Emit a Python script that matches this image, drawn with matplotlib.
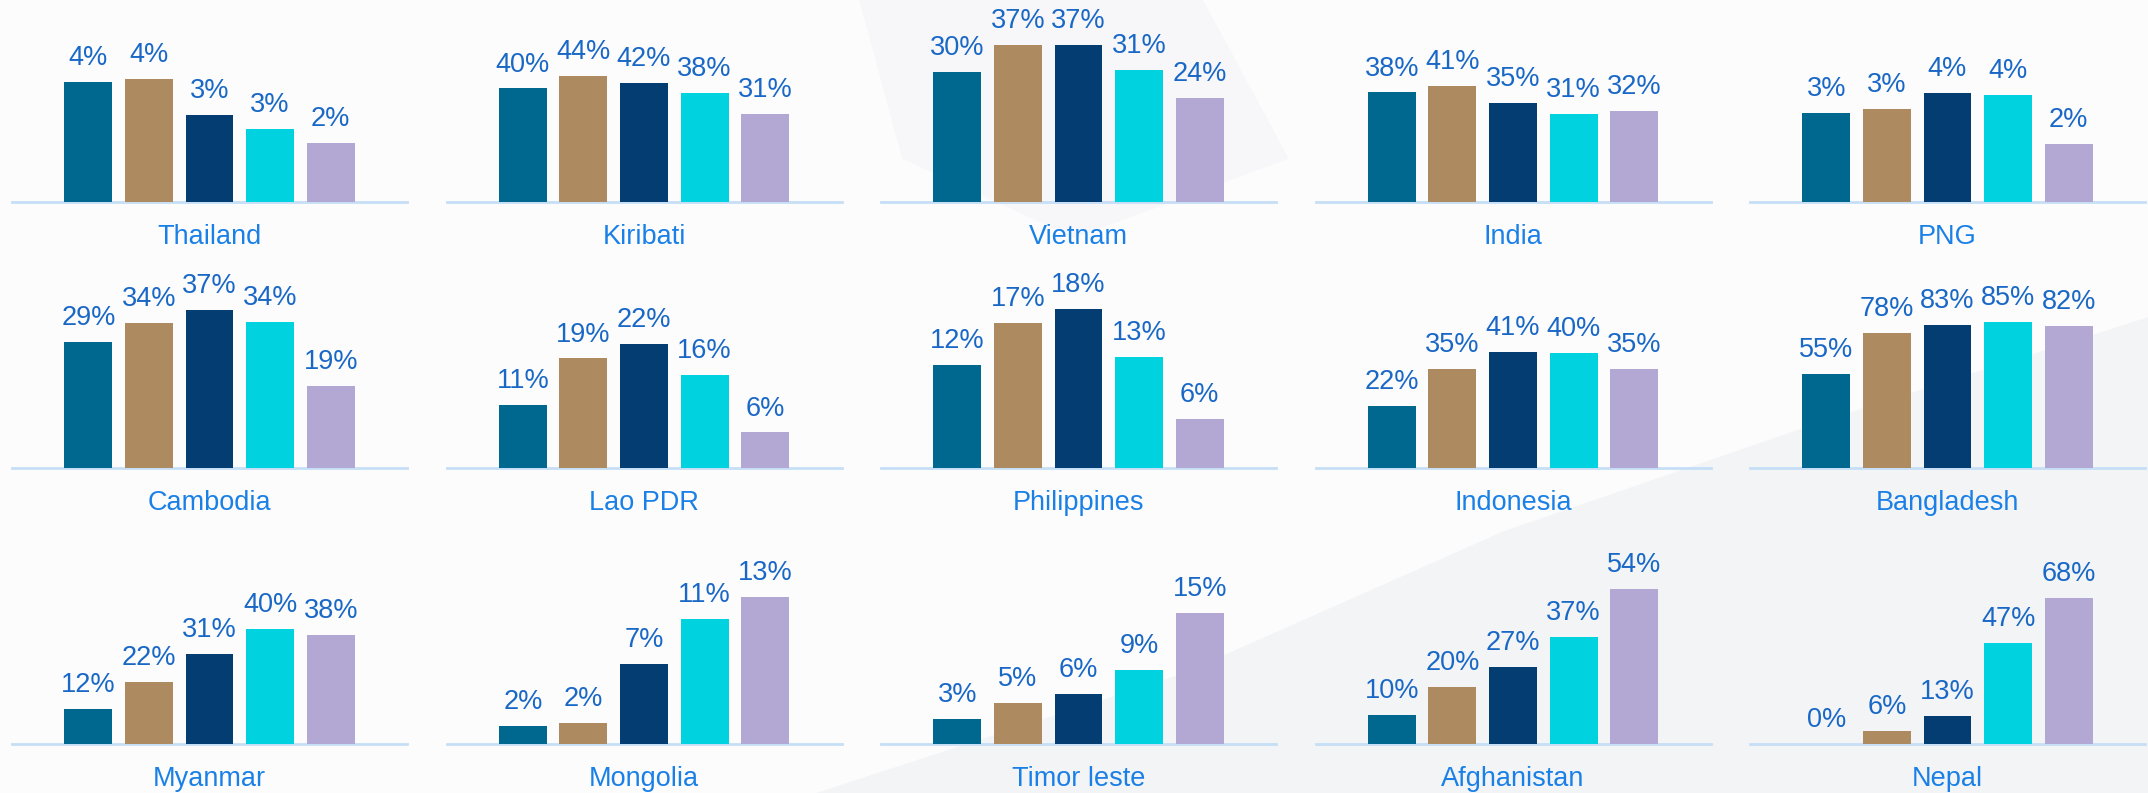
import matplotlib
matplotlib.use("Agg")
import matplotlib.pyplot as plt
from matplotlib.patches import Polygon
from matplotlib.transforms import blended_transform_factory

plt.rcParams['font.family'] = ['Liberation Sans', 'DejaVu Sans']

# ---------------- data ----------------
countries = [
    "Thailand", "Kiribati", "Vietnam", "India", "PNG",
    "Cambodia", "Lao PDR", "Philippines", "Indonesia", "Bangladesh",
    "Myanmar", "Mongolia", "Timor leste", "Afghanistan", "Nepal",
]
thailand    = [4.19, 4.29, 3.03, 2.55, 2.06]
kiribati    = [39.6, 44.0, 41.6, 38.1, 30.6]
vietnam     = [30.2, 36.6, 36.6, 30.7, 24.2]
india       = [38.2, 40.6, 34.6, 30.6, 31.6]
png         = [3.10, 3.24, 3.80, 3.73, 2.02]
cambodia    = [29.4, 33.8, 36.8, 34.0, 19.1]
lao_pdr     = [11.0, 19.1, 21.7, 16.3, 6.2]
philippines = [12.0, 16.9, 18.5, 12.9, 5.7]
indonesia   = [21.7, 34.6, 40.6, 40.2, 34.6]
bangladesh  = [54.8, 78.4, 83.3, 85.1, 82.4]
myanmar     = [12.3, 21.7, 31.3, 40.2, 38.1]
mongolia    = [1.6, 1.8, 7.0, 10.9, 12.8]
timor_leste = [2.9, 4.8, 5.85, 8.6, 15.2]
afghanistan = [10.2, 20.0, 27.0, 37.4, 54.2]
nepal       = [0.0, 6.2, 13.2, 47.1, 68.0]

series_values = [thailand, kiribati, vietnam, india, png,
                 cambodia, lao_pdr, philippines, indonesia, bangladesh,
                 myanmar, mongolia, timor_leste, afghanistan, nepal]

# per-panel value-axis maximum (%)
axis_max = [6, 60, 40, 60, 6,
            40, 30, 20, 60, 100,
            60, 15, 20, 60, 80]

# ---------------- style ----------------
bar_colors = ["#00678F", "#AD8A5F", "#033D71", "#00D2DF", "#B3A8D3"]
value_color = "#1A68C6"
name_color = "#1A80E6"
line_color = "#C6DEF6"

W, H = 2148, 793
fig = plt.figure(figsize=(W / 100, H / 100), dpi=100)
fig.patch.set_facecolor("#FCFCFD")

# faint decorative background swoosh
bg = fig.add_axes([0, 0, 1, 1], zorder=-10)
bg.set_xlim(0, 1); bg.set_ylim(0, 1); bg.axis("off")
bg.add_patch(Polygon([(0.38, 0), (1, 0), (1, 0.60), (0.85, 0.47), (0.70, 0.33), (0.55, 0.15)],
                     closed=True, facecolor="#F3F4F6", edgecolor="none"))
bg.add_patch(Polygon([(0.40, 1), (0.56, 1), (0.60, 0.80), (0.50, 0.70), (0.42, 0.80)],
                     closed=True, facecolor="#F7F7F9", edgecolor="none"))

col_pitch = 434.5
ax_left0 = 12
ax_w = 395
baselines = [202, 468, 744]
plot_h = 172
half = 3.26

for k, (name, vals, ymax) in enumerate(zip(countries, series_values, axis_max)):
    r, c = divmod(k, 5)
    left = (ax_left0 + col_pitch * c) / W
    bottom = (H - baselines[r]) / H
    ax = fig.add_axes([left, bottom, ax_w / W, plot_h / H])
    ax.patch.set_alpha(0)
    x = list(range(len(vals)))
    ax.bar(x, vals, width=0.79, color=bar_colors, zorder=2)
    ax.set_xlim(2 - half, 2 + half)
    ax.set_ylim(0, ymax)
    for s in ax.spines.values():
        s.set_visible(False)
    ax.set_xticks([]); ax.set_yticks([])
    ax.axhline(0, color=line_color, lw=2, clip_on=False, zorder=1)
    for xi, v in zip(x, vals):
        ax.annotate(f"{round(v)}%", (xi, v), xytext=(0, 12.2), textcoords="offset points",
                    ha="center", va="baseline", fontsize=19.5, color=value_color,
                    annotation_clip=False)
    tr = blended_transform_factory(ax.transData, ax.transAxes)
    ax.annotate(name, (2, 0), xycoords=tr, xytext=(0, -30.5), textcoords="offset points",
                ha="center", va="baseline", fontsize=19.5, color=name_color,
                annotation_clip=False)

fig.savefig("out.png", dpi=100, facecolor=fig.get_facecolor())
